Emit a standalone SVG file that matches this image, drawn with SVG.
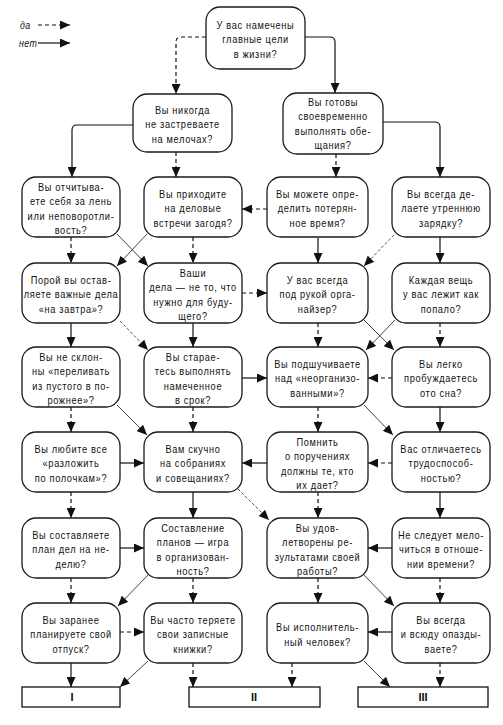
<svg xmlns="http://www.w3.org/2000/svg" width="503" height="725" viewBox="0 0 503 725">
<style>
.b{fill:#fff;stroke:#1a1a1a;stroke-width:1.3}
.t{font-family:"Liberation Sans",Arial,sans-serif;font-size:10.5px;letter-spacing:0.75px;fill:#111;text-anchor:middle}
.f{font-family:"Liberation Sans",Arial,sans-serif;font-size:11px;font-weight:bold;fill:#111;text-anchor:middle}
.lg{font-family:"Liberation Sans",Arial,sans-serif;font-style:italic;font-size:10px;letter-spacing:0.5px;fill:#111}
.s{fill:none;stroke:#111;stroke-width:1.2;marker-end:url(#a)}
.d{fill:none;stroke:#111;stroke-width:1.2;stroke-dasharray:4 3;marker-end:url(#a)}
.sg{fill:none;stroke:#444;stroke-width:1;marker-end:url(#a)}
.dg{fill:none;stroke:#555;stroke-width:1;stroke-dasharray:3 2;marker-end:url(#a)}
</style>
<defs>
<marker id="a" viewBox="0 0 10 10" refX="10" refY="5" markerWidth="10" markerHeight="9" markerUnits="userSpaceOnUse" orient="auto" preserveAspectRatio="none"><path d="M0,0 L10,5 L0,10 z" fill="#111"/></marker>
</defs>
<rect width="503" height="725" fill="#fff"/>
<g id="legend">
<text class="lg" transform="translate(20,0) scale(0.88,1)" x="0" y="29">да</text>
<text class="lg" transform="translate(19,0) scale(0.88,1)" x="0" y="47">нет</text>
<path class="d" d="M38,25 H70"/>
<path class="s" d="M38,43 H70"/>
</g>
<g id="connectors">
<path class="d" d="M206,37 H181 Q176,37 176,42 V94"/>
<path class="s" d="M305,37 H330 Q335,37 335,42 V93"/>
<path class="s" d="M133,125 H77 Q72,125 72,130 V177"/>
<path class="d" d="M176,152 V177"/>
<path class="d" d="M336,154 V177"/>
<path class="s" d="M383,122 H435 Q440,122 440,127 V177"/>
<path class="d" d="M71,237 V263"/>
<path class="sg" d="M117,234 L148,266"/>
<path class="sg" d="M147,234 L117,266"/>
<path class="d" d="M193,237 V263"/>
<path class="d" d="M267,209 H242"/>
<path class="s" d="M318,238 V263"/>
<path class="dg" d="M394,235 L364,266"/>
<path class="s" d="M440,237 V263"/>
<path class="d" d="M242,293 H267"/>
<path class="s" d="M71,323 V347"/>
<path class="dg" d="M120,321 L148,350"/>
<path class="s" d="M193,323 V347"/>
<path class="d" d="M318,323 V347"/>
<path class="sg" d="M364,320 L394,350"/>
<path class="sg" d="M395,320 L366,350"/>
<path class="d" d="M440,323 V347"/>
<path class="s" d="M242,378 H267"/>
<path class="d" d="M392,378 H368"/>
<path class="d" d="M71,407 V432"/>
<path class="sg" d="M117,405 L147,435"/>
<path class="d" d="M193,407 V432"/>
<path class="d" d="M318,407 V432"/>
<path class="sg" d="M364,405 L393,435"/>
<path class="s" d="M440,407 V432"/>
<path class="s" d="M120,463 H144"/>
<path class="s" d="M267,463 H242"/>
<path class="d" d="M392,463 H368"/>
<path class="d" d="M71,492 V518"/>
<path class="s" d="M193,492 V518"/>
<path class="dg" d="M238,489 L269,520"/>
<path class="d" d="M318,492 V518"/>
<path class="s" d="M440,492 V518"/>
<path class="s" d="M120,548 H144"/>
<path class="s" d="M392,548 H368"/>
<path class="d" d="M71,578 V603"/>
<path class="sg" d="M148,575 L118,606"/>
<path class="d" d="M193,578 V603"/>
<path class="d" d="M318,578 V603"/>
<path class="sg" d="M364,575 L394,606"/>
<path class="d" d="M440,578 V603"/>
<path class="d" d="M120,632 H144"/>
<path class="s" d="M392,632 H368"/>
<path class="s" d="M71,663 V687"/>
<path class="sg" d="M148,661 L120,687"/>
<path class="d" d="M193,663 V687"/>
<path class="d" d="M292,663 V687"/>
<path class="sg" d="M364,661 L390,687"/>
<path class="d" d="M440,663 V687"/>
</g>
<g id="n1"><rect class="b" x="206" y="7" width="99" height="62" rx="14"/><text class="t" transform="translate(255.5,0) scale(0.88,1)"><tspan x="0" y="29">У вас намечены</tspan><tspan x="0" y="43.5">главные цели</tspan><tspan x="0" y="58">в жизни?</tspan></text></g>
<g id="n2"><rect class="b" x="133" y="94" width="99" height="58" rx="14"/><text class="t" transform="translate(182.5,0) scale(0.88,1)"><tspan x="0" y="114">Вы никогда</tspan><tspan x="0" y="128.5">не застреваете</tspan><tspan x="0" y="143">на мелочах?</tspan></text></g>
<g id="n3"><rect class="b" x="283" y="93" width="100" height="61" rx="14"/><text class="t" transform="translate(333,0) scale(0.88,1)"><tspan x="0" y="106">Вы готовы</tspan><tspan x="0" y="120.5">своевременно</tspan><tspan x="0" y="135">выполнять обе-</tspan><tspan x="0" y="149.5">щания?</tspan></text></g>
<g id="n4"><rect class="b" x="22" y="177" width="98" height="60" rx="14"/><text class="t" transform="translate(71,0) scale(0.88,1)"><tspan x="0" y="190.75">Вы отчитыва-</tspan><tspan x="0" y="205.25">ете себя за лень</tspan><tspan x="0" y="219.75">или неповоротли-</tspan><tspan x="0" y="234.25">вость?</tspan></text></g>
<g id="n5"><rect class="b" x="144" y="177" width="98" height="60" rx="14"/><text class="t" transform="translate(193,0) scale(0.88,1)"><tspan x="0" y="198">Вы приходите</tspan><tspan x="0" y="212.5">на деловые</tspan><tspan x="0" y="227">встречи загодя?</tspan></text></g>
<g id="n6"><rect class="b" x="267" y="177" width="101" height="60" rx="14"/><text class="t" transform="translate(317.5,0) scale(0.88,1)"><tspan x="0" y="198">Вы можете опре-</tspan><tspan x="0" y="212.5">делить потерян-</tspan><tspan x="0" y="227">ное время?</tspan></text></g>
<g id="n7"><rect class="b" x="392" y="177" width="98" height="60" rx="14"/><text class="t" transform="translate(441,0) scale(0.88,1)"><tspan x="0" y="198">Вы всегда де-</tspan><tspan x="0" y="212.5">лаете утреннюю</tspan><tspan x="0" y="227">зарядку?</tspan></text></g>
<g id="n8"><rect class="b" x="22" y="263" width="98" height="60" rx="14"/><text class="t" transform="translate(71,0) scale(0.88,1)"><tspan x="0" y="284">Порой вы остав-</tspan><tspan x="0" y="298.5">ляете важные дела</tspan><tspan x="0" y="313">«на завтра»?</tspan></text></g>
<g id="n9"><rect class="b" x="144" y="263" width="98" height="60" rx="14"/><text class="t" transform="translate(193,0) scale(0.88,1)"><tspan x="0" y="276.75">Ваши</tspan><tspan x="0" y="291.25">дела — не то, что</tspan><tspan x="0" y="305.75">нужно для буду-</tspan><tspan x="0" y="320.25">щего?</tspan></text></g>
<g id="n10"><rect class="b" x="267" y="263" width="101" height="60" rx="14"/><text class="t" transform="translate(317.5,0) scale(0.88,1)"><tspan x="0" y="284">У вас всегда</tspan><tspan x="0" y="298.5">под рукой орга-</tspan><tspan x="0" y="313">найзер?</tspan></text></g>
<g id="n11"><rect class="b" x="392" y="263" width="98" height="60" rx="14"/><text class="t" transform="translate(441,0) scale(0.88,1)"><tspan x="0" y="284">Каждая вещь</tspan><tspan x="0" y="298.5">у вас лежит как</tspan><tspan x="0" y="313">попало?</tspan></text></g>
<g id="n12"><rect class="b" x="22" y="347" width="98" height="60" rx="14"/><text class="t" transform="translate(71,0) scale(0.88,1)"><tspan x="0" y="360.75">Вы не склон-</tspan><tspan x="0" y="375.25">ны «переливать</tspan><tspan x="0" y="389.75">из пустого в по-</tspan><tspan x="0" y="404.25">рожнее»?</tspan></text></g>
<g id="n13"><rect class="b" x="144" y="347" width="98" height="60" rx="14"/><text class="t" transform="translate(193,0) scale(0.88,1)"><tspan x="0" y="360.75">Вы старае-</tspan><tspan x="0" y="375.25">тесь выполнять</tspan><tspan x="0" y="389.75">намеченное</tspan><tspan x="0" y="404.25">в срок?</tspan></text></g>
<g id="n14"><rect class="b" x="267" y="347" width="101" height="60" rx="14"/><text class="t" transform="translate(317.5,0) scale(0.88,1)"><tspan x="0" y="368">Вы подшучиваете</tspan><tspan x="0" y="382.5">над «неорганизо-</tspan><tspan x="0" y="397">ванными»?</tspan></text></g>
<g id="n15"><rect class="b" x="392" y="347" width="98" height="60" rx="14"/><text class="t" transform="translate(441,0) scale(0.88,1)"><tspan x="0" y="368">Вы легко</tspan><tspan x="0" y="382.5">пробуждаетесь</tspan><tspan x="0" y="397">ото сна?</tspan></text></g>
<g id="n16"><rect class="b" x="22" y="432" width="98" height="60" rx="14"/><text class="t" transform="translate(71,0) scale(0.88,1)"><tspan x="0" y="453">Вы любите все</tspan><tspan x="0" y="467.5">«разложить</tspan><tspan x="0" y="482">по полочкам»?</tspan></text></g>
<g id="n17"><rect class="b" x="144" y="432" width="98" height="60" rx="14"/><text class="t" transform="translate(193,0) scale(0.88,1)"><tspan x="0" y="453">Вам скучно</tspan><tspan x="0" y="467.5">на собраниях</tspan><tspan x="0" y="482">и совещаниях?</tspan></text></g>
<g id="n18"><rect class="b" x="267" y="432" width="101" height="60" rx="14"/><text class="t" transform="translate(317.5,0) scale(0.88,1)"><tspan x="0" y="445.75">Помнить</tspan><tspan x="0" y="460.25">о поручениях</tspan><tspan x="0" y="474.75">должны те, кто</tspan><tspan x="0" y="489.25">их дает?</tspan></text></g>
<g id="n19"><rect class="b" x="392" y="432" width="98" height="60" rx="14"/><text class="t" transform="translate(441,0) scale(0.88,1)"><tspan x="0" y="453">Вас отличаетесь</tspan><tspan x="0" y="467.5">трудоспособ-</tspan><tspan x="0" y="482">ностью?</tspan></text></g>
<g id="n20"><rect class="b" x="22" y="518" width="98" height="60" rx="14"/><text class="t" transform="translate(71,0) scale(0.88,1)"><tspan x="0" y="539">Вы составляете</tspan><tspan x="0" y="553.5">план дел на не-</tspan><tspan x="0" y="568">делю?</tspan></text></g>
<g id="n21"><rect class="b" x="144" y="518" width="98" height="60" rx="14"/><text class="t" transform="translate(193,0) scale(0.88,1)"><tspan x="0" y="531.75">Составление</tspan><tspan x="0" y="546.25">планов — игра</tspan><tspan x="0" y="560.75">в организован-</tspan><tspan x="0" y="575.25">ность?</tspan></text></g>
<g id="n22"><rect class="b" x="267" y="518" width="101" height="60" rx="14"/><text class="t" transform="translate(317.5,0) scale(0.88,1)"><tspan x="0" y="531.75">Вы удов-</tspan><tspan x="0" y="546.25">летворены ре-</tspan><tspan x="0" y="560.75">зультатами своей</tspan><tspan x="0" y="575.25">работы?</tspan></text></g>
<g id="n23"><rect class="b" x="392" y="518" width="98" height="60" rx="14"/><text class="t" transform="translate(441,0) scale(0.88,1)"><tspan x="0" y="539">Не следует мело-</tspan><tspan x="0" y="553.5">читься в отноше-</tspan><tspan x="0" y="568">нии времени?</tspan></text></g>
<g id="n24"><rect class="b" x="22" y="603" width="98" height="60" rx="14"/><text class="t" transform="translate(71,0) scale(0.88,1)"><tspan x="0" y="624">Вы заранее</tspan><tspan x="0" y="638.5">планируете свой</tspan><tspan x="0" y="653">отпуск?</tspan></text></g>
<g id="n25"><rect class="b" x="144" y="603" width="98" height="60" rx="14"/><text class="t" transform="translate(193,0) scale(0.88,1)"><tspan x="0" y="624">Вы часто теряете</tspan><tspan x="0" y="638.5">свои записные</tspan><tspan x="0" y="653">книжки?</tspan></text></g>
<g id="n26"><rect class="b" x="267" y="603" width="101" height="60" rx="14"/><text class="t" transform="translate(317.5,0) scale(0.88,1)"><tspan x="0" y="631.25">Вы исполнитель-</tspan><tspan x="0" y="645.75">ный человек?</tspan></text></g>
<g id="n27"><rect class="b" x="392" y="603" width="98" height="60" rx="14"/><text class="t" transform="translate(441,0) scale(0.88,1)"><tspan x="0" y="624">Вы всегда</tspan><tspan x="0" y="638.5">и всюду опазды-</tspan><tspan x="0" y="653">ваете?</tspan></text></g>
<g id="r1"><rect x="22" y="687" width="98" height="20" fill="#fff" stroke="#111" stroke-width="1.3"/><text class="f" x="72" y="701">I</text></g>
<g id="r2"><rect x="189" y="687" width="131" height="20" fill="#fff" stroke="#111" stroke-width="1.3"/><text class="f" x="254" y="701">II</text></g>
<g id="r3"><rect x="358" y="687" width="130" height="20" fill="#fff" stroke="#111" stroke-width="1.3"/><text class="f" x="423" y="701">III</text></g>
</svg>
